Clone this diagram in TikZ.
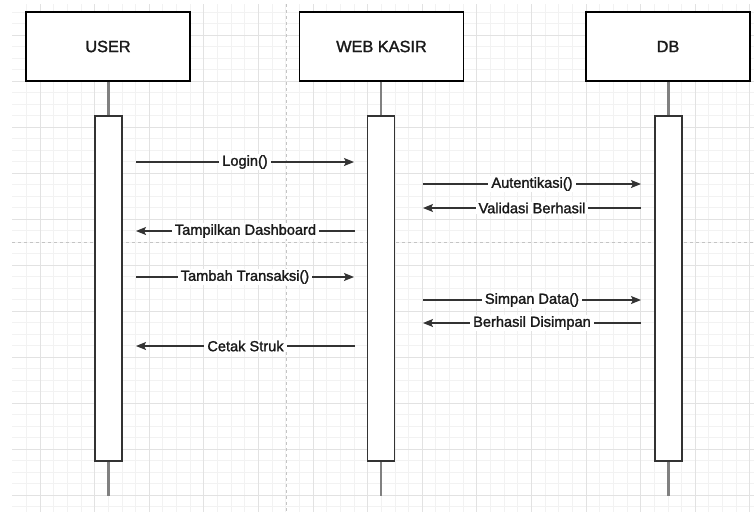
\documentclass[tikz,border=0pt]{standalone}
\usepackage{fontspec}
\setmainfont{Liberation Sans}
\newfontfamily\heavyfont{Liberation Sans}[AutoFakeBold=1.6]
\usetikzlibrary{arrows.meta}
\definecolor{gmajor}{HTML}{E2E2E2}
\definecolor{gminor}{HTML}{F2F2F2}
\definecolor{lifeg}{HTML}{808080}
\definecolor{pageg}{HTML}{C4C4C4}
\definecolor{txt}{HTML}{1A1A1A}
\definecolor{actg}{HTML}{333333}
\tikzset{
  x=1pt, y=-1pt,
  actor/.style={draw=black, line width=1.3pt, fill=white, minimum width=164pt, minimum height=69pt, inner sep=0pt, font=\heavyfont\bfseries\fontsize{16.3}{18}\selectfont, text=txt},
  actbox/.style={draw=actg, line width=1.4pt, fill=white, minimum width=27pt, minimum height=345pt, inner sep=0pt},
  lifeline/.style={draw=lifeg, line width=2.2pt},
  msg/.style={draw=actg, line width=1.2pt, -{Stealth[length=10pt,width=8pt,inset=2pt]}},
  lbl/.style={fill=white, inner xsep=3pt, inner ysep=1pt, font=\heavyfont\bfseries\fontsize{14.6}{16}\selectfont, text=txt},
  pagebreak/.style={draw=pageg, line width=0.8pt, dash pattern=on 3pt off 3pt}
}
\begin{document}
\begin{tikzpicture}
\useasboundingbox (0,0) rectangle (754,512);
\fill[white] (0,0) rectangle (754,512);
% grid
\begin{scope}
\clip (12,4) rectangle (754,512);
\foreach \i in {-1,...,55} { \draw[gminor, line width=0.8pt] (40+13.65*\i,0) -- (40+13.65*\i,512); }
\foreach \i in {-3,...,45} { \draw[gminor, line width=0.8pt] (0,35+11.5*\i) -- (754,35+11.5*\i); }
\foreach \i in {-1,...,14} { \draw[gmajor, line width=1pt] (40+54.6*\i,0) -- (40+54.6*\i,512); }
\foreach \i in {-1,...,11} { \draw[gmajor, line width=1pt] (0,35+46*\i) -- (754,35+46*\i); }
\end{scope}
% page break lines
\draw[pagebreak] (286,4) -- (286,512);
\draw[pagebreak] (12,242) -- (754,242);
% actors
\node[actor] (user) at (108,46.5) {USER};
\node[actor] (web) at (381.5,46.5) {WEB KASIR};
\node[actor] (db) at (668,46.5) {DB};
% lifeline ends
\coordinate (uend) at (108.5,496);
\coordinate (wend) at (381,496);
\coordinate (dend) at (668.5,496);
\draw[lifeline] (user.south -| uend) -- (uend);
\draw[lifeline] (web.south -| wend) -- (wend);
\draw[lifeline] (db.south -| dend) -- (dend);
% activations
\node[actbox] (ua) at (108.5,288.5) {};
\node[actbox] (wa) at (381,288.5) {};
\node[actbox] (da) at (668.5,288.5) {};
% message endpoints
\coordinate (m1a) at (136,162); \coordinate (m1b) at (354,162);
\coordinate (m2a) at (355,231); \coordinate (m2b) at (136,231);
\coordinate (m3a) at (423,184); \coordinate (m3b) at (641,184);
\coordinate (m4a) at (641,208); \coordinate (m4b) at (423,208);
\coordinate (m5a) at (136,277); \coordinate (m5b) at (354,277);
\coordinate (m6a) at (355,346); \coordinate (m6b) at (136,346);
\coordinate (m7a) at (423,300); \coordinate (m7b) at (641,300);
\coordinate (m8a) at (641,323); \coordinate (m8b) at (423,323);
\draw[msg] (m1a) -- node[lbl] {Login()} (m1b);
\draw[msg] (m2a) -- node[lbl] {Tampilkan Dashboard} (m2b);
\draw[msg] (m3a) -- node[lbl] {Autentikasi()} (m3b);
\draw[msg] (m4a) -- node[lbl] {Validasi Berhasil} (m4b);
\draw[msg] (m5a) -- node[lbl] {Tambah Transaksi()} (m5b);
\draw[msg] (m6a) -- node[lbl] {Cetak Struk} (m6b);
\draw[msg] (m7a) -- node[lbl] {Simpan Data()} (m7b);
\draw[msg] (m8a) -- node[lbl] {Berhasil Disimpan} (m8b);
\end{tikzpicture}
\end{document}
